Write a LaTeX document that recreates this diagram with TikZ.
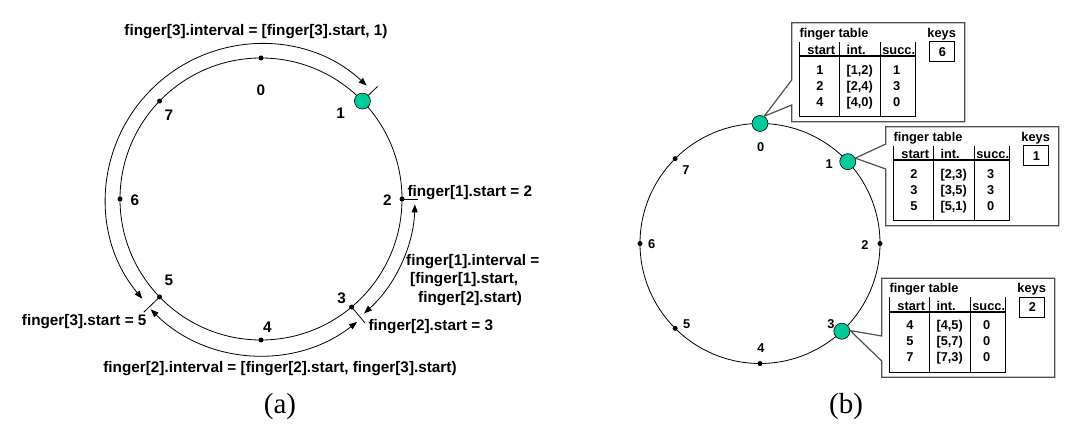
\documentclass[tikz,border=0pt]{standalone}
\usepackage{fontspec}
\setmainfont{Liberation Sans}
\newfontfamily\captionfont{Liberation Serif}
\usepackage{tikz}
\usetikzlibrary{arrows.meta}

\definecolor{peergreen}{RGB}{0,204,153}
\definecolor{boxgray}{RGB}{80,80,80}

\tikzset{
  dot/.style={circle, fill=black, inner sep=0pt, minimum size=5pt},
  peer/.style={circle, draw=black, fill=peergreen, inner sep=0pt, minimum size=16pt, line width=0.6pt},
  lbl/.style={inner sep=0pt, font=\fontsize{15.3}{18.3}\selectfont\bfseries},
  tabtext/.style={inner sep=0pt, text height=9pt, text depth=0pt, font=\fontsize{12.8}{14}\selectfont\bfseries},
  interval/.style={{Triangle[length=8pt,width=6pt]}-{Triangle[length=8pt,width=6pt]}, line width=0.8pt},
  callout/.style={draw=boxgray, line width=1.2pt, fill=white},
  capt/.style={inner sep=0pt, font=\captionfont\fontsize{29}{30}\selectfont}
}

% finger table in a callout: name, top left corner, notch, pointer, key, rows
\newcommand{\fingertable}[6]{
  \begin{scope}[shift={(#2)}]
    \draw[callout] (0,-#3) -- (0,0) -- (173,0) -- (173,-99) -- (0,-99) -- (0,-#3-25) -- (#4) -- cycle;
    \node[tabtext, anchor=west] (#1title) at (7.6,-10) {finger table};
    \node[tabtext] (#1keys) at (150,-10) {keys};
    \node[tabtext, draw, line width=0.8pt, minimum width=25pt, minimum height=20pt] (#1key) at (150.6,-29) {#5};
    \draw[line width=0.8pt] (7.6,-19) -- (7.6,-94) -- (124,-94) -- (124,-19);
    \draw[line width=0.8pt] (47.6,-19) -- (47.6,-94) (88.4,-19) -- (88.4,-94);
    \draw[line width=1.6pt] (7.6,-33.5) -- (124,-33.5);
    \node[tabtext] (#1hs) at (29.6,-27.7) {start};
    \node[tabtext] (#1hi) at (64.4,-27.7) {int.};
    \node[tabtext] (#1hc) at (107,-27.7) {succ.};
    \foreach \s/\i/\c [count=\k] in {#6}{
      \node[tabtext] (#1s\k) at (28.3,-31-16*\k) {\s};
      \node[tabtext] (#1i\k) at (68,-31-16*\k) {\i};
      \node[tabtext] (#1c\k) at (105,-31-16*\k) {\c};
    }
  \end{scope}
}

\begin{document}
\begin{tikzpicture}[x=1pt, y=1pt]
  \useasboundingbox (0,0) rectangle (1090,444);

  % (a) ring with finger intervals
  \begin{scope}[shift={(261,245)}]
    \draw[line width=0.8pt] (0,0) circle (141);
    \node[dot] (a0) at (90:141) {};
    \node[peer] (a1) at (44:141) {};
    \node[dot] (a2) at (0:141) {};
    \node[dot] (a3) at (-50:141) {};
    \node[dot] (a4) at (-90:141) {};
    \node[dot] (a5) at (224:141) {};
    \node[dot] (a6) at (180:141) {};
    \node[dot] (a7) at (136:141) {};
    \node[lbl] (la0) at (0,109) {0};
    \node[lbl] (la1) at (79.7,85.7) {1};
    \node[lbl] (la2) at (126.3,-1) {2};
    \node[lbl] (la3) at (80.7,-99.3) {3};
    \node[lbl] (la4) at (6.3,-128.3) {4};
    \node[lbl] (la5) at (-92,-81.7) {5};
    \node[lbl] (la6) at (-126,-1) {6};
    \node[lbl] (la7) at (-92,84) {7};
    % ticks at the interval starts
    \coordinate (ta1) at (44:162);
    \coordinate (ta2) at (0:157);
    \coordinate (ta3) at (-50:162);
    \coordinate (ta5) at (224:163);
    \draw[line width=0.8pt] (a1) -- (ta1);
    \draw[line width=0.8pt] (a2.center) -- (ta2);
    \draw[line width=0.8pt] (a3.center) -- (ta3);
    \draw[line width=0.8pt] (a5.center) -- (ta5);
    % intervals
    \draw[interval] (220:155) arc[start angle=220, end angle=47, radius=155];
    \draw[interval] (-2:154) arc[start angle=-2, end angle=-48, radius=154];
    \draw[interval] (-52:156) arc[start angle=-52, end angle=-135, radius=156];
  \end{scope}
  \node[lbl] (f3int) at (256,412.3) {finger[3].interval = [finger[3].start, 1)};
  \node[lbl, anchor=west] (f1start) at (407.3,251.3) {finger[1].start = 2};
  \node[lbl, anchor=west, align=left] (f1int) at (406,164) {finger[1].interval =\\\hspace*{4pt}[finger[1].start,\\\hspace*{12pt}finger[2].start)};
  \node[lbl, anchor=west] (f2start) at (368.3,117.3) {finger[2].start = 3};
  \node[lbl, anchor=east] (f3start) at (146.7,122.3) {finger[3].start = 5};
  \node[lbl] (f2int) at (280,75.7) {finger[2].interval = [finger[2].start, finger[3].start)};
  \node[capt] (capa) at (280,37) {(a)};

  % (b) ring with finger tables
  \begin{scope}[shift={(760,200.5)}]
    \draw[line width=0.8pt] (0,0) circle (120);
    \node[peer] (g0) at (90:120) {};
    \node[peer] (g1) at (43:120) {};
    \node[dot] (b2) at (0:120) {};
    \node[peer] (g3) at (-47:120) {};
    \node[dot] (b4) at (-90:120) {};
    \node[dot] (b5) at (225:120) {};
    \node[dot] (b6) at (180:120) {};
    \node[dot] (b7) at (135:120) {};
    \node[tabtext] (lb0) at (0.7,96.8) {0};
    \node[tabtext] (lb1) at (69.3,79.2) {1};
    \node[tabtext] (lb2) at (105,-1.5) {2};
    \node[tabtext] (lb3) at (71,-80.8) {3};
    \node[tabtext] (lb4) at (1,-104.5) {4};
    \node[tabtext] (lb5) at (-73.3,-80.8) {5};
    \node[tabtext] (lb6) at (-108.3,-1) {6};
    \node[tabtext] (lb7) at (-74,73.5) {7};
  \end{scope}
  \fingertable{t0}{791.7,421.3}{57.3}{g0.60}{6}{1/{[1,2)}/1, 2/{[2,4)}/3, 4/{[4,0)}/0}
  \fingertable{t1}{885.7,317.3}{17.3}{g1.25}{1}{2/{[2,3)}/3, 3/{[3,5)}/3, 5/{[5,1)}/0}
  \fingertable{t3}{881.7,165.7}{57.7}{g3.5}{2}{4/{[4,5)}/0, 5/{[5,7)}/0, 7/{[7,3)}/0}
  \node[capt] (capb) at (846,37) {(b)};
\end{tikzpicture}
\end{document}
